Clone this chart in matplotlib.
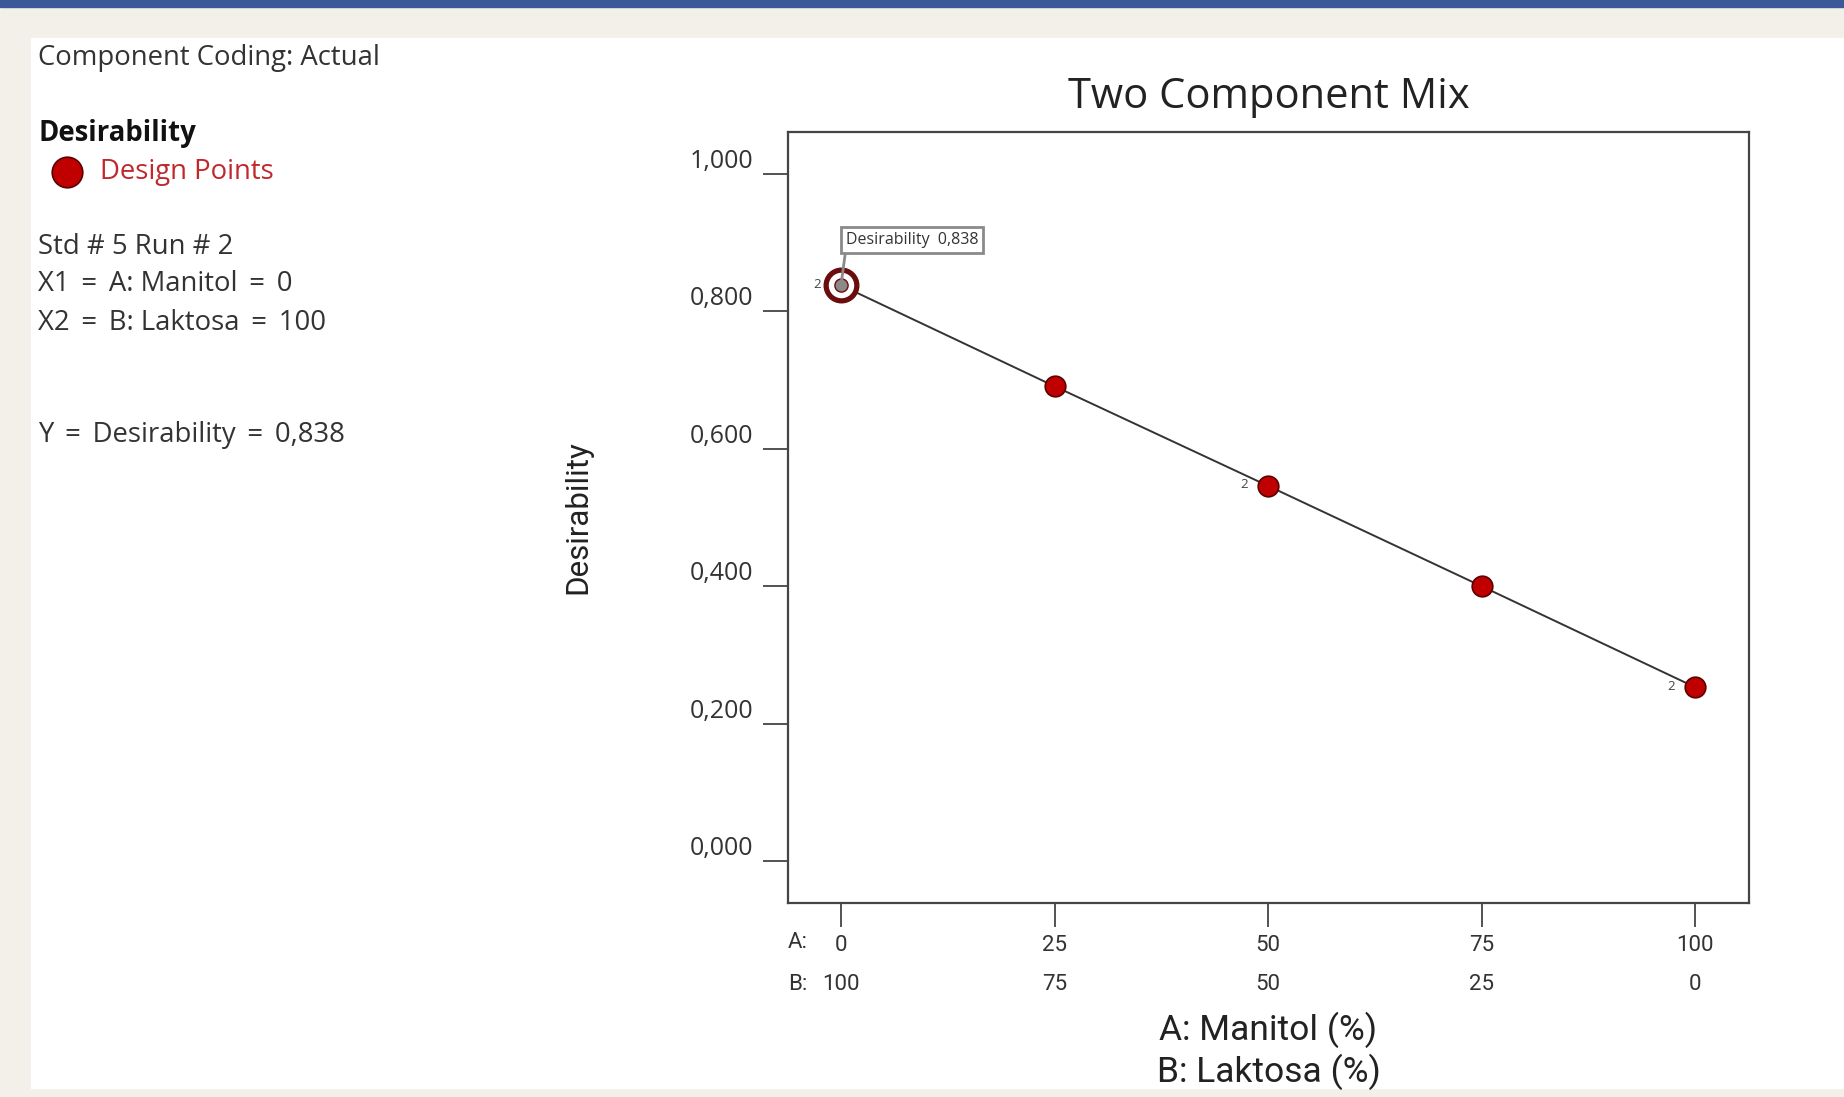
import matplotlib
matplotlib.use("Agg")
import matplotlib.pyplot as plt
from matplotlib import font_manager
from matplotlib.patches import Rectangle
from matplotlib.lines import Line2D

# %% data
manitol = [0, 25, 50, 75, 100]
laktosa = [100, 75, 50, 25, 0]
desirability = [0.838, 0.691, 0.546, 0.400, 0.253]
replicates = [2, 1, 2, 1, 2]
y_ticks = [0.0, 0.2, 0.4, 0.6, 0.8, 1.0]
y_tick_labels = ["0,000", "0,200", "0,400", "0,600", "0,800", "1,000"]
sel_x, sel_y = 0, 0.838

names = {f.name for f in font_manager.fontManager.ttflist}
narrow = "Liberation Sans Narrow" if "Liberation Sans Narrow" in names else "Roboto"
plt.rcParams["font.family"] = ["Open Sans", "DejaVu Sans"]

W, H = 1844, 1097
fig = plt.figure(figsize=(W / 100, H / 100), dpi=100, facecolor="#f3f0ea")

# window chrome: blue strip on top, white panel
fig.add_artist(Rectangle((0, 1 - 7 / H), 1, 7 / H, transform=fig.transFigure,
                         color="#3b5998", zorder=0))
fig.add_artist(Rectangle((31 / W, 9 / H), 1, (1088 - 38) / H, transform=fig.transFigure,
                         color="white", zorder=0))

# %% left info panel
txt = "#333333"
fs = 19.8
eq = " \u2009=\u2009 "
fig.text(38 / W, 1 - 58 / H, "Component Coding: Actual", fontsize=fs, color=txt, va="center")
fig.text(38 / W, 1 - 133 / H, "Desirability", fontsize=fs, color="#111111",
         fontweight="bold", va="center")
fig.add_artist(Line2D([67 / W], [1 - 172 / H], transform=fig.transFigure, marker="o",
                      markersize=22, markerfacecolor="#c00000", markeredgecolor="#5a0000",
                      markeredgewidth=1.2, linestyle="none"))
fig.text(100 / W, 1 - 172 / H, "Design Points", fontsize=fs, color="#c0282d", va="center")
for yy, s in [(247, "Std # 5 Run # 2"), (284, f"X1{eq}A: Manitol{eq}0"),
              (323, f"X2{eq}B: Laktosa{eq}100"), (435, f"Y{eq}Desirability{eq}0,838")]:
    fig.text(38 / W, 1 - yy / H, s, fontsize=fs, color=txt, va="center")

# %% plot
ax = fig.add_axes([788 / W, 1 - 903 / H, (1749 - 788) / W, (903 - 132) / H])
ax.set_xlim(-6.2, 106.3)
ax.set_ylim(-0.061, 1.061)

ax.plot(manitol, desirability, color="#333333", lw=1.4, zorder=2)
ax.scatter(manitol, desirability, s=220, color="#c00000", edgecolor="#5a0000",
           linewidth=1.2, zorder=3)
for x, y, r in zip(manitol, desirability, replicates):
    if r > 1:
        ax.annotate(str(r), (x, y), xytext=(-20, 1), textcoords="offset pixels",
                    ha="right", va="center", fontsize=9.5, color="#444444")

# selected run
ax.scatter([sel_x], [sel_y], s=620, color="#6b0d0d", zorder=4)
ax.scatter([sel_x], [sel_y], s=300, color="white", zorder=5)
ax.scatter([sel_x], [sel_y], s=90, color="#8a8a8a", edgecolor="#6b0d0d", linewidth=1, zorder=6)
ax.annotate(f"Desirability  {sel_y:.3f}".replace(".", ","), (sel_x, sel_y),
            xytext=(5, 37), textcoords="offset pixels", ha="left", va="bottom",
            fontsize=11.5, color="#333333",
            bbox=dict(boxstyle="square,pad=0.3", fc="white", ec="#8a8a8a", lw=2),
            arrowprops=dict(arrowstyle="-", color="#8a8a8a", lw=2, relpos=(0, 0),
                            shrinkA=0, shrinkB=0), zorder=7)

for sp in ax.spines.values():
    sp.set_color("#444444")
    sp.set_linewidth(1.6)

ax.set_yticks(y_ticks)
ax.set_yticklabels(y_tick_labels)
ax.tick_params(axis="y", length=18, width=1.3, color="#444444", pad=7,
               labelsize=18, labelcolor="#333333")
for lbl in ax.get_yticklabels():
    lbl.set_va("bottom")

ax.set_xticks(manitol)
ax.set_xticklabels([f"{a}\n{b}" for a, b in zip(manitol, laktosa)])
ax.tick_params(axis="x", length=17, width=1.3, color="#444444", pad=6,
               labelsize=16, labelcolor="#333333")
for lbl in ax.get_xticklabels():
    lbl.set_family(narrow)
    lbl.set_linespacing(2.1)
fig.text(788 / W, 1 - 942 / H, "A:", fontsize=16, color="#333333", family=narrow,
         ha="left", va="center")
fig.text(788 / W, 1 - 984 / H, "B:", fontsize=16, color="#333333", family=narrow,
         ha="left", va="center")

ax.set_title("Two Component Mix", fontsize=30, color="#222222", pad=17)
ax.set_ylabel("Desirability", fontsize=22.5, color="#222222", family=narrow)
ax.yaxis.set_label_coords(-0.204, 0.5)
ax.text(0.5, (903 - 1030) / 771, "A: Manitol (%)", transform=ax.transAxes, ha="center",
        va="center", fontsize=25.5, color="#222222", family=narrow)
ax.text(0.5, (903 - 1072) / 771, "B: Laktosa (%)", transform=ax.transAxes, ha="center",
        va="center", fontsize=25.5, color="#222222", family=narrow)

fig.savefig("out.png", dpi=100, facecolor=fig.get_facecolor())
